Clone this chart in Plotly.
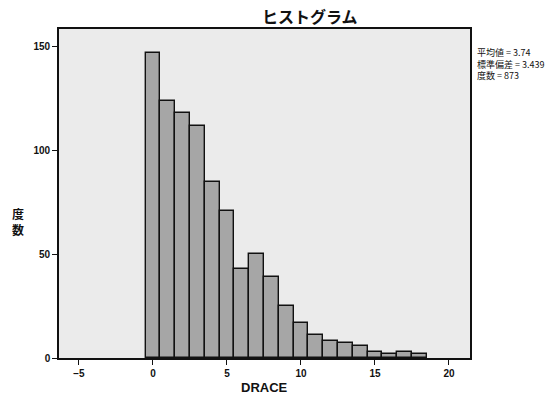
import plotly.graph_objects as go

# Data (bin centres and counts)
bin_centers = list(range(0, 19))
counts = [147, 124, 118, 112, 85, 71, 43, 50, 39, 25, 17, 11, 8, 7, 6, 3, 2, 3, 2]
x_ticks = [-5, 0, 5, 10, 15, 20]
y_ticks = [0, 50, 100, 150]
stats_lines = ["平均値 = 3.74", "標準偏差 = 3.439", "度数 = 873"]
title_text = "ヒストグラム"
x_title = "DRACE"
y_title_chars = ["度", "数"]

W, H = 559, 394
L, R, T, B = 59, 470, 29, 358  # plot area in pixels

def px_x(p):
    return (p - L) / (R - L)

def px_y(p):
    return (B - p) / (B - T)

cjk = "Noto Sans CJK JP"
latin = "Liberation Sans, Arial"

fig = go.Figure()
fig.add_trace(go.Bar(
    x=bin_centers, y=counts, width=1.0,
    marker=dict(color="#a6a6a6", line=dict(color="#111111", width=1.4)),
    showlegend=False,
))

fig.update_layout(
    width=W, height=H,
    margin=dict(l=L, r=W - R, t=T, b=H - B, autoexpand=False),
    paper_bgcolor="white",
    plot_bgcolor="#ebebeb",
    bargap=0,
    font=dict(family=latin, color="#111111"),
)
fig.update_xaxes(
    range=[-6.35, 21.42], tickvals=x_ticks, ticks="outside", ticklen=5,
    tickwidth=1.2, tickcolor="#111111",
    showline=True, mirror=True, linecolor="#111111", linewidth=1.6,
    showgrid=False, zeroline=False,
    tickfont=dict(size=10, family=latin, color="#111111", weight="bold"),
)
fig.update_yaxes(
    range=[0, 158.6], tickvals=y_ticks, ticks="outside", ticklen=5,
    tickwidth=1.2, tickcolor="#111111",
    showline=True, mirror=True, linecolor="#111111", linewidth=1.6,
    showgrid=False, zeroline=False,
    tickfont=dict(size=10, family=latin, color="#111111", weight="bold"),
)

ann = []
ann.append(dict(text=title_text, x=px_x(310), y=px_y(16), xref="paper", yref="paper",
                xanchor="center", yanchor="middle", showarrow=False,
                font=dict(size=16, family=cjk, color="#111111", weight="bold")))
ann.append(dict(text=x_title, x=0.5, y=px_y(387), xref="paper", yref="paper",
                xanchor="center", yanchor="middle", showarrow=False,
                font=dict(size=13, family=latin, color="#111111", weight="bold")))
ann.append(dict(text="<br>".join(y_title_chars), x=px_x(18), y=px_y(221),
                xref="paper", yref="paper", xanchor="center", yanchor="middle",
                showarrow=False, borderpad=0,
                font=dict(size=12, family=cjk, color="#111111", weight="bold")))
ann.append(dict(text="<br>".join(stats_lines), x=px_x(476), y=px_y(45),
                xref="paper", yref="paper", xanchor="left", yanchor="top",
                align="left", showarrow=False, borderpad=0,
                font=dict(size=9, family=cjk, color="#111111")))
fig.update_layout(annotations=ann)

fig.write_html("out.html")
